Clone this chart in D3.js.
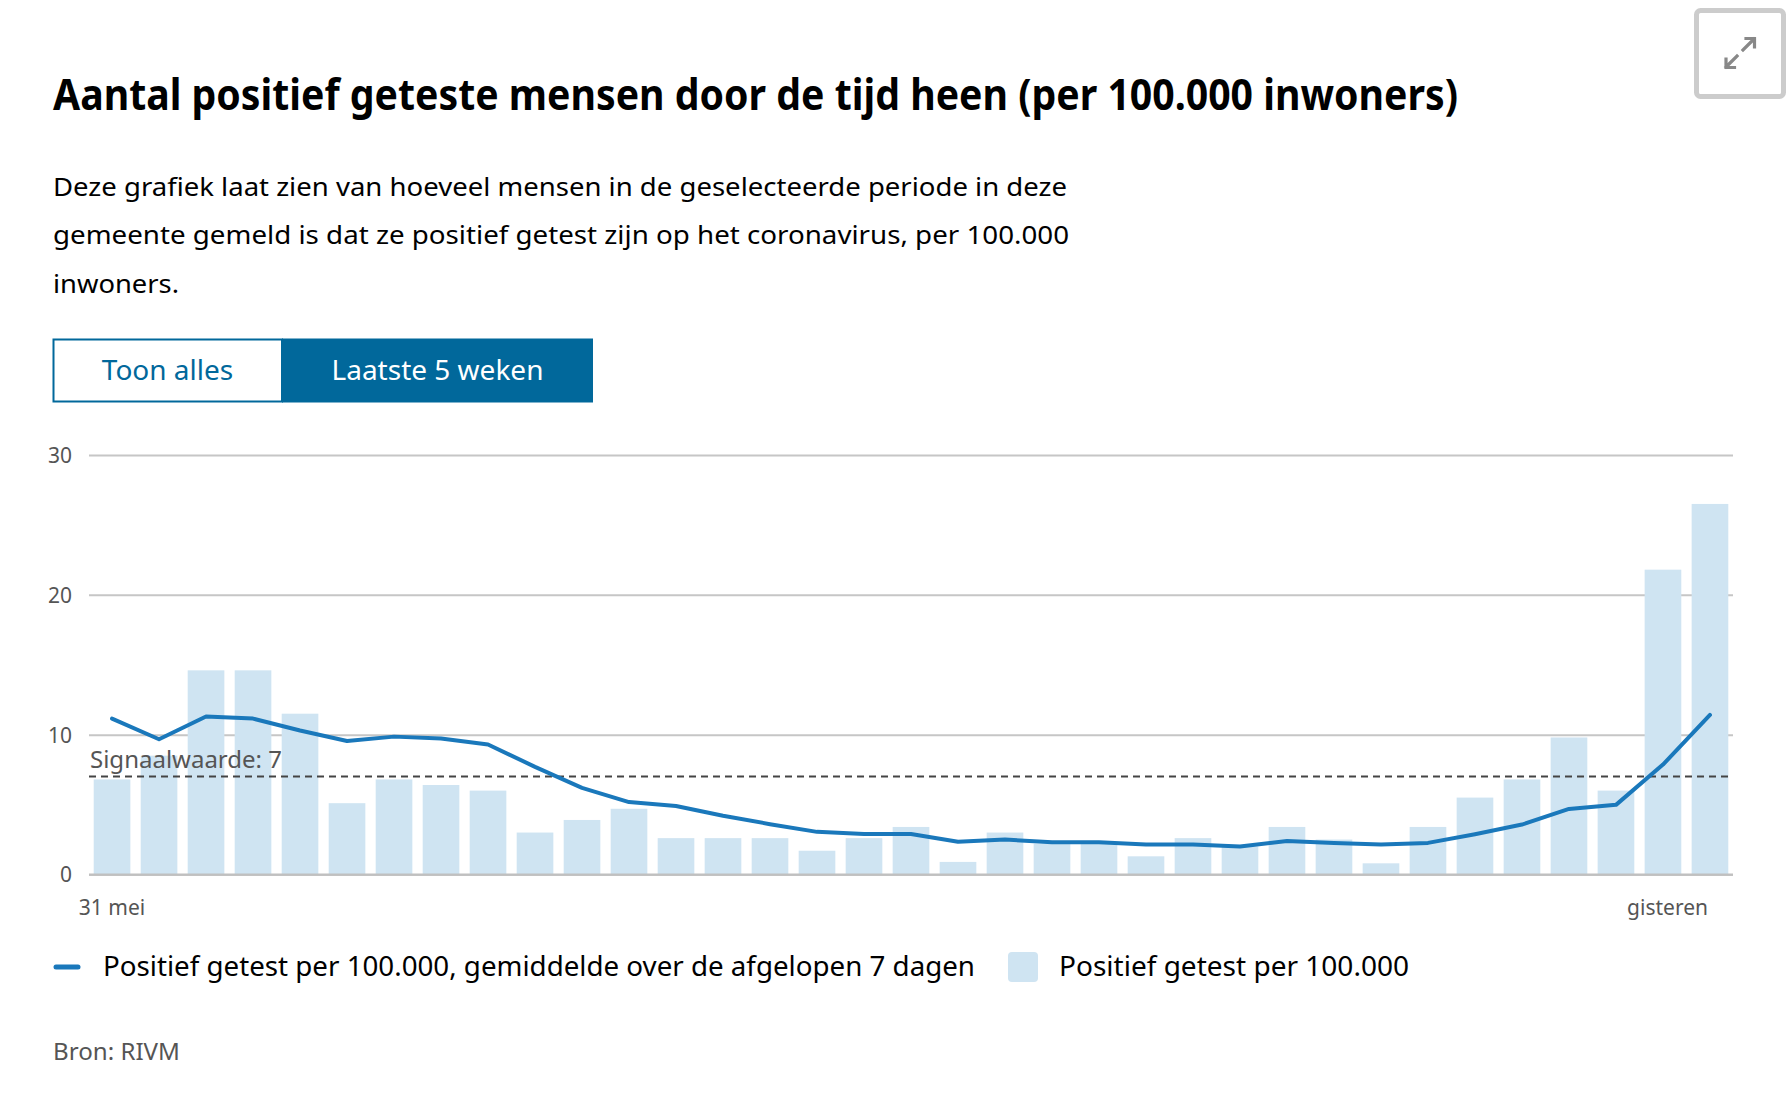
<!DOCTYPE html>
<html>
<head>
<meta charset="utf-8">
<script src="https://cdn.jsdelivr.net/npm/d3@7/dist/d3.min.js"></script>
<style>
  html, body { margin: 0; padding: 0; background: #fff; }
  svg { display: block; font-family: "Noto Sans", "Open Sans", sans-serif; }
</style>
</head>
<body>
<svg id="chart" width="1792" height="1104"></svg>
<script>
// ---- Data ----
const days = ["31 mei","1 jun","2 jun","3 jun","4 jun","5 jun","6 jun","7 jun","8 jun","9 jun",
  "10 jun","11 jun","12 jun","13 jun","14 jun","15 jun","16 jun","17 jun","18 jun","19 jun",
  "20 jun","21 jun","22 jun","23 jun","24 jun","25 jun","26 jun","27 jun","28 jun","29 jun",
  "30 jun","1 jul","2 jul","3 jul","gisteren"];
const dailyValues = [6.8, 8.5, 14.6, 14.6, 11.5, 5.1, 6.8, 6.4, 6.0, 3.0,
  3.9, 4.7, 2.6, 2.6, 2.6, 1.7, 2.6, 3.4, 0.9, 3.0,
  2.2, 2.2, 1.3, 2.6, 2.0, 3.4, 2.5, 0.8, 3.4, 5.5,
  6.8, 9.8, 6.0, 21.8, 26.5];
const avgValues = [11.15, 9.67, 11.3, 11.15, 10.3, 9.55, 9.86, 9.72, 9.3, 7.7,
  6.2, 5.18, 4.9, 4.2, 3.6, 3.05, 2.9, 2.9, 2.34, 2.5,
  2.3, 2.3, 2.15, 2.15, 2.0, 2.4, 2.26, 2.14, 2.26, 2.88,
  3.57, 4.69, 4.98, 7.86, 11.41];
const yTicks = [0, 10, 20, 30];
const xTickLabels = ["31 mei", "gisteren"];
const signalValue = 7;
const signalLabel = "Signaalwaarde: 7";
const titleText = "Aantal positief geteste mensen door de tijd heen (per 100.000 inwoners)";
const subtitleLines = [
  "Deze grafiek laat zien van hoeveel mensen in de geselecteerde periode in deze",
  "gemeente gemeld is dat ze positief getest zijn op het coronavirus, per 100.000",
  "inwoners."
];
const buttonLabels = ["Toon alles", "Laatste 5 weken"];
const legendLabels = ["Positief getest per 100.000, gemiddelde over de afgelopen 7 dagen", "Positief getest per 100.000"];
const sourceText = "Bron: RIVM";

// ---- Setup ----
const svg = d3.select("#chart");
const plotLeft = 89, plotRight = 1733, plotTop = 455, plotBottom = 874.5;

function fitText(sel, target) {
  sel.each(function() {
    const w = this.getComputedTextLength();
    if (Math.abs(w - target) > 2) {
      d3.select(this).attr("textLength", target).attr("lengthAdjust", "spacingAndGlyphs");
    }
  });
}

// Title
svg.append("text").attr("x", 53).attr("y", 110)
  .attr("font-size", 43).attr("font-weight", 700).attr("fill", "#000")
  .text(titleText).call(fitText, 1405);

// Subtitle
const subW = [1014, 1016, 126];
subtitleLines.forEach((t, i) => {
  svg.append("text").attr("x", 53).attr("y", 195.5 + i * 48.5)
    .attr("font-size", 25).attr("fill", "#000")
    .text(t).call(fitText, subW[i]);
});

// Buttons
svg.append("rect").attr("x", 53.5).attr("y", 339.5).attr("width", 228.5).attr("height", 62)
  .attr("fill", "#fff").attr("stroke", "#01689b").attr("stroke-width", 2);
svg.append("rect").attr("x", 282).attr("y", 338.5).attr("width", 311).attr("height", 64)
  .attr("fill", "#01689b");
svg.append("text").attr("x", 167.5).attr("y", 380).attr("text-anchor", "middle")
  .attr("font-size", 28).attr("fill", "#01689b").text(buttonLabels[0]).call(fitText, 130);
svg.append("text").attr("x", 437.5).attr("y", 380).attr("text-anchor", "middle")
  .attr("font-size", 28).attr("fill", "#fff").text(buttonLabels[1]).call(fitText, 210);

// Expand button
svg.append("rect").attr("x", 1696.5).attr("y", 10.5).attr("width", 87).attr("height", 86).attr("rx", 4)
  .attr("fill", "#fff").attr("stroke", "#cccccc").attr("stroke-width", 5);
const ic = svg.append("g").attr("stroke", "#888").attr("stroke-width", 3.2).attr("fill", "none")
  .attr("stroke-linecap", "square");
ic.append("path").attr("d", "M1743,50 L1754,39 M1746,38.5 L1754.5,38.5 L1754.5,47");
ic.append("path").attr("d", "M1737,56 L1726,67 M1726,59 L1726,67.5 L1734.5,67.5");

// Scales
const x = d3.scaleBand().domain(days).range([plotLeft, plotRight]).paddingInner(0.22).paddingOuter(0.1);
const y = d3.scaleLinear().domain([0, 30]).range([plotBottom, plotTop]);

// Grid / y axis
const yAxis = d3.axisLeft(y).tickValues(yTicks).tickSize(-(plotRight - plotLeft)).tickPadding(17);
const gy = svg.append("g").attr("transform", `translate(${plotLeft},0)`).call(yAxis);
gy.select(".domain").remove();
gy.selectAll(".tick line").attr("stroke", "#c6c6c6").attr("stroke-width", 2);
gy.selectAll(".tick text").attr("fill", "#555").attr("font-size", 21)
  .attr("font-family", "'Noto Sans', sans-serif").attr("dy", "0.35em");

// Bars
svg.append("g").selectAll("rect").data(dailyValues).join("rect")
  .attr("x", (d, i) => x(days[i]))
  .attr("width", x.bandwidth())
  .attr("y", d => y(d))
  .attr("height", d => y(0) - y(d))
  .attr("fill", "#cfe4f2");

// Baseline redraw on top
svg.append("line").attr("x1", plotLeft).attr("x2", plotRight).attr("y1", y(0)).attr("y2", y(0))
  .attr("stroke", "#c0c0c0").attr("stroke-width", 2);

// Signal line
svg.append("line").attr("x1", plotLeft).attr("x2", plotRight).attr("y1", y(signalValue)).attr("y2", y(signalValue))
  .attr("stroke", "#444").attr("stroke-width", 2).attr("stroke-dasharray", "7,5");
svg.append("text").attr("x", plotLeft + 1).attr("y", 768).attr("font-size", 24).attr("fill", "#555")
  .text(signalLabel).call(fitText, 193);

// Average line
const line = d3.line().x((d, i) => x(days[i]) + x.bandwidth() / 2).y(d => y(d));
svg.append("path").datum(avgValues).attr("d", line)
  .attr("fill", "none").attr("stroke", "#1a78bb").attr("stroke-width", 4)
  .attr("stroke-linejoin", "round").attr("stroke-linecap", "round");

// X axis labels
const xAxis = d3.axisBottom(x).tickValues([days[0], days[days.length - 1]])
  .tickSize(0).tickPadding(0).tickFormat((d, i) => xTickLabels[i]);
const gx = svg.append("g").attr("transform", `translate(0,${plotBottom})`).call(xAxis);
gx.select(".domain").remove();
gx.selectAll(".tick text").attr("fill", "#555").attr("font-size", 21)
  .attr("font-family", "'Noto Sans', sans-serif")
  .attr("y", 40.5).attr("dy", 0)
  .attr("text-anchor", (d, i) => i === 0 ? "middle" : "end")
  .attr("dx", (d, i) => i === 0 ? 0 : -2);

// Legend
svg.append("line").attr("x1", 56).attr("x2", 78).attr("y1", 967).attr("y2", 967)
  .attr("stroke", "#1a78bb").attr("stroke-width", 5).attr("stroke-linecap", "round");
svg.append("text").attr("x", 103).attr("y", 976).attr("font-size", 27).attr("fill", "#000")
  .text(legendLabels[0]).call(fitText, 872);
svg.append("rect").attr("x", 1008).attr("y", 952).attr("width", 30).attr("height", 30).attr("rx", 4)
  .attr("fill", "#cfe4f2");
svg.append("text").attr("x", 1059).attr("y", 976).attr("font-size", 27).attr("fill", "#000")
  .text(legendLabels[1]).call(fitText, 350);

// Source
svg.append("text").attr("x", 53).attr("y", 1060).attr("font-size", 23).attr("fill", "#555")
  .text(sourceText).call(fitText, 127);
</script>
</body>
</html>
